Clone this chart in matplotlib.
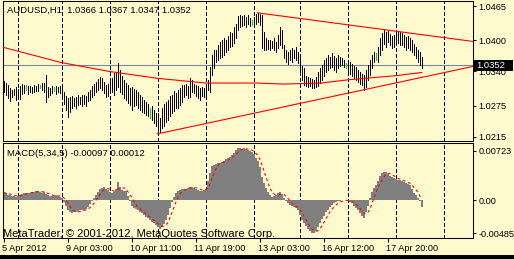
import numpy as np
import pandas as pd
import matplotlib
matplotlib.use("Agg")
import matplotlib.pyplot as plt
from matplotlib.patches import Rectangle
import matplotlib.transforms as mtransforms

plt.rcParams['font.family'] = ['Liberation Sans', 'DejaVu Sans']

# ---------------- data (AUDUSD, H1) ----------------
highs = [
    1.0322, 1.0318, 1.0314, 1.0309, 1.0305, 1.0307, 1.0311, 1.0307, 1.0312, 1.0316,
    1.0314, 1.0314, 1.0312, 1.0312, 1.0311, 1.0314, 1.0312, 1.0316, 1.0314, 1.0318,
    1.0318, 1.0333, 1.0311, 1.0309, 1.0312, 1.0311, 1.0312, 1.0311, 1.0312, 1.0309,
    1.0301, 1.0293, 1.0290, 1.0291, 1.0293, 1.0290, 1.0291, 1.0295, 1.0291, 1.0295,
    1.0295, 1.0293, 1.0301, 1.0305, 1.0312, 1.0316, 1.0320, 1.0326, 1.0330, 1.0328,
    1.0320, 1.0314, 1.0316, 1.0324, 1.0328, 1.0337, 1.0339, 1.0356, 1.0343, 1.0332,
    1.0324, 1.0318, 1.0314, 1.0309, 1.0311, 1.0307, 1.0305, 1.0301, 1.0295, 1.0291,
    1.0286, 1.0282, 1.0278, 1.0270, 1.0274, 1.0267, 1.0261, 1.0261, 1.0251, 1.0270,
    1.0278, 1.0282, 1.0286, 1.0293, 1.0295, 1.0303, 1.0299, 1.0305, 1.0309, 1.0314,
    1.0314, 1.0316, 1.0312, 1.0328, 1.0324, 1.0316, 1.0314, 1.0312, 1.0309, 1.0311,
    1.0309, 1.0312, 1.0324, 1.0349, 1.0372, 1.0381, 1.0381, 1.0391, 1.0396, 1.0400,
    1.0404, 1.0400, 1.0408, 1.0415, 1.0414, 1.0425, 1.0431, 1.0446, 1.0448, 1.0446,
    1.0448, 1.0444, 1.0448, 1.0442, 1.0438, 1.0444, 1.0450, 1.0452, 1.0450, 1.0448,
    1.0415, 1.0404, 1.0400, 1.0400, 1.0398, 1.0404, 1.0396, 1.0410, 1.0425, 1.0419,
    1.0391, 1.0381, 1.0377, 1.0381, 1.0385, 1.0381, 1.0387, 1.0377, 1.0366, 1.0351,
    1.0347, 1.0332, 1.0330, 1.0328, 1.0326, 1.0324, 1.0330, 1.0339, 1.0347, 1.0353,
    1.0362, 1.0366, 1.0372, 1.0368, 1.0375, 1.0370, 1.0366, 1.0372, 1.0368, 1.0366,
    1.0362, 1.0356, 1.0362, 1.0358, 1.0355, 1.0351, 1.0349, 1.0343, 1.0339, 1.0335,
    1.0333, 1.0343, 1.0353, 1.0362, 1.0372, 1.0377, 1.0375, 1.0387, 1.0404, 1.0414,
    1.0419, 1.0415, 1.0417, 1.0412, 1.0408, 1.0410, 1.0414, 1.0417, 1.0415, 1.0414,
    1.0410, 1.0406, 1.0408, 1.0404, 1.0400, 1.0393, 1.0387, 1.0381, 1.0377, 1.0367,
]
lows = [
    1.0301, 1.0295, 1.0290, 1.0284, 1.0291, 1.0295, 1.0286, 1.0293, 1.0288, 1.0297,
    1.0299, 1.0305, 1.0297, 1.0301, 1.0299, 1.0301, 1.0303, 1.0303, 1.0309, 1.0305,
    1.0301, 1.0282, 1.0291, 1.0295, 1.0299, 1.0303, 1.0297, 1.0301, 1.0299, 1.0293,
    1.0278, 1.0267, 1.0253, 1.0263, 1.0270, 1.0274, 1.0270, 1.0276, 1.0278, 1.0274,
    1.0278, 1.0274, 1.0284, 1.0286, 1.0291, 1.0295, 1.0301, 1.0305, 1.0309, 1.0305,
    1.0299, 1.0291, 1.0293, 1.0301, 1.0301, 1.0295, 1.0305, 1.0311, 1.0301, 1.0297,
    1.0290, 1.0286, 1.0280, 1.0276, 1.0267, 1.0274, 1.0276, 1.0270, 1.0267, 1.0263,
    1.0261, 1.0257, 1.0255, 1.0251, 1.0248, 1.0242, 1.0236, 1.0221, 1.0225, 1.0232,
    1.0236, 1.0244, 1.0248, 1.0255, 1.0261, 1.0265, 1.0270, 1.0270, 1.0276, 1.0282,
    1.0291, 1.0295, 1.0290, 1.0291, 1.0301, 1.0299, 1.0293, 1.0290, 1.0286, 1.0293,
    1.0291, 1.0295, 1.0305, 1.0301, 1.0333, 1.0347, 1.0358, 1.0362, 1.0366, 1.0368,
    1.0372, 1.0377, 1.0381, 1.0387, 1.0389, 1.0394, 1.0404, 1.0419, 1.0425, 1.0427,
    1.0429, 1.0425, 1.0431, 1.0427, 1.0429, 1.0425, 1.0431, 1.0435, 1.0429, 1.0385,
    1.0381, 1.0381, 1.0383, 1.0381, 1.0385, 1.0381, 1.0377, 1.0385, 1.0391, 1.0385,
    1.0366, 1.0358, 1.0355, 1.0362, 1.0358, 1.0366, 1.0362, 1.0356, 1.0339, 1.0324,
    1.0314, 1.0312, 1.0311, 1.0312, 1.0309, 1.0309, 1.0311, 1.0312, 1.0318, 1.0324,
    1.0332, 1.0339, 1.0343, 1.0347, 1.0349, 1.0343, 1.0339, 1.0347, 1.0351, 1.0353,
    1.0349, 1.0347, 1.0339, 1.0335, 1.0332, 1.0328, 1.0324, 1.0320, 1.0316, 1.0314,
    1.0305, 1.0311, 1.0324, 1.0333, 1.0347, 1.0358, 1.0362, 1.0358, 1.0372, 1.0381,
    1.0393, 1.0387, 1.0396, 1.0391, 1.0385, 1.0387, 1.0393, 1.0394, 1.0391, 1.0391,
    1.0387, 1.0381, 1.0385, 1.0381, 1.0377, 1.0372, 1.0366, 1.0358, 1.0353, 1.0347,
]
doji_bars = [11, 18, 25, 73, 124, 171, 186]

ma_bars = [0, 29, 53, 77, 101, 126, 140, 159, 172, 196, 209]
ma_values = [1.0386, 1.0357, 1.0340, 1.0327, 1.0318, 1.0318, 1.0316, 1.0318, 1.0324, 1.0332, 1.0338]

upper_trend_bars = [127, 196]
upper_trend_prices = [1.0452, 1.0417]
lower_trend_bars = [77, 180]
lower_trend_prices = [1.0221, 1.0305]

macd_main = [
    0.0011, 0.0010, 0.0008, 0.0007, 0.0006, 0.0006, 0.0005, 0.0006, 0.0007, 0.0009,
    0.0010, 0.0010, 0.0011, 0.0011, 0.0012, 0.0012, 0.0013, 0.0013, 0.0012, 0.0011,
    0.0012, 0.0009, 0.0007, 0.0006, 0.0006, 0.0006, 0.0007, 0.0006, 0.0005, 0.0003,
    -0.0003, -0.0008, -0.0014, -0.0018, -0.0019, -0.0018, -0.0017, -0.0016, -0.0015, -0.0015,
    -0.0014, -0.0013, -0.0010, -0.0006, -0.0002, 0.0003, 0.0008, 0.0012, 0.0016, 0.0018,
    0.0019, 0.0017, 0.0015, 0.0012, 0.0011, 0.0012, 0.0016, 0.0026, 0.0019, 0.0015,
    0.0013, 0.0013, 0.0006, -0.0002, -0.0008, -0.0011, -0.0013, -0.0014, -0.0017, -0.0019,
    -0.0022, -0.0025, -0.0027, -0.0030, -0.0032, -0.0034, -0.0036, -0.0039, -0.0042, -0.0040,
    -0.0035, -0.0030, -0.0022, -0.0012, -0.0003, 0.0004, 0.0010, 0.0013, 0.0015, 0.0016,
    0.0016, 0.0017, 0.0018, 0.0020, 0.0019, 0.0018, 0.0016, 0.0015, 0.0014, 0.0013,
    0.0015, 0.0017, 0.0028, 0.0040, 0.0050, 0.0052, 0.0053, 0.0055, 0.0055, 0.0056,
    0.0058, 0.0060, 0.0062, 0.0064, 0.0066, 0.0070, 0.0074, 0.0076, 0.0076, 0.0075,
    0.0076, 0.0075, 0.0074, 0.0073, 0.0071, 0.0068, 0.0062, 0.0057, 0.0048, 0.0034,
    0.0025, 0.0018, 0.0012, 0.0007, 0.0005, 0.0006, 0.0008, 0.0010, 0.0012, 0.0009,
    0.0003, -0.0002, -0.0005, -0.0007, -0.0009, -0.0010, -0.0012, -0.0015, -0.0022, -0.0030,
    -0.0034, -0.0038, -0.0042, -0.0046, -0.0049, -0.0048, -0.0045, -0.0040, -0.0034, -0.0028,
    -0.0023, -0.0018, -0.0014, -0.0010, -0.0007, -0.0005, -0.0003, -0.0002, -0.0001, 0.0000,
    0.0000, 0.0000, -0.0001, -0.0003, -0.0005, -0.0008, -0.0011, -0.0015, -0.0019, -0.0023,
    -0.0026, -0.0018, -0.0008, 0.0003, 0.0012, 0.0018, 0.0022, 0.0028, 0.0035, 0.0040,
    0.0042, 0.0041, 0.0038, 0.0035, 0.0034, 0.0033, 0.0031, 0.0029, 0.0029, 0.0028,
    0.0027, 0.0025, 0.0023, 0.0022, 0.0017, 0.0011, 0.0007, 0.0003, -0.0002, -0.00097,
]

day_separator_bars = [7, 29, 53, 77, 101, 125, 148, 172, 196, 220]
date_tick_bars = [0, 32, 64, 96, 128, 160, 192]
date_tick_labels = ["5 Apr 2012", "9 Apr 03:00", "10 Apr 11:00", "11 Apr 19:00",
                    "13 Apr 03:00", "16 Apr 12:00", "17 Apr 20:00"]
price_ticks = [1.0465, 1.0400, 1.0340, 1.0275, 1.0215]
macd_ticks = [0.00723, 0.0, -0.00485]
macd_tick_labels = ["0.00723", "0.00", "-0.00485"]
last_price = 1.0352
title_text = "AUDUSD,H1  1.0366 1.0367 1.0347 1.0352"
macd_text = "MACD(5,34,5) -0.00097 0.00012"
copyright_text = "MetaTrader, \u00a9 2001-2012, MetaQuotes Software Corp."

# ---------------- layout ----------------
W, H = 514, 259
BG = '#FFFACD'
fig = plt.figure(figsize=(W / 100, H / 100), dpi=100)
fig.patch.set_facecolor(BG)

def fx(px):
    return px / W

def fy(py):
    return 1 - py / H

ax1 = fig.add_axes([fx(2.5), fy(140.5), 470 / W, 140 / H])
ax2 = fig.add_axes([fx(2.5), fy(237.5), 470 / W, 95 / H])

xl = (-0.5, 234.5)
for ax in (ax1, ax2):
    ax.set_facecolor(BG)
    ax.set_xlim(*xl)
    for s in ax.spines.values():
        s.set_color('black')
        s.set_linewidth(0.75)
    ax.yaxis.tick_right()
    ax.tick_params(axis='y', direction='out', length=2.5, width=0.75, pad=2,
                   labelsize=6.6, colors='black')
    for b in day_separator_bars:
        ax.axvline(b, color='black', lw=0.5, ls=(0, (5, 4)), zorder=1, antialiased=False)

ax1.set_ylim(1.02083, 1.04755)
ax2.set_ylim(-0.00551, 0.00848)

idx = np.arange(len(highs))
bar_colors = ['#00E000' if i in doji_bars else 'black' for i in idx]
ax1.vlines(idx, lows, highs, colors=bar_colors, linewidth=0.45, zorder=3, antialiased=False)

ax1.axhline(last_price, color='#778899', lw=0.8, zorder=2)
ax1.plot(ma_bars, ma_values, color='red', lw=0.8, zorder=4)

def ray(ax, bars, prices):
    slope = (prices[1] - prices[0]) / (bars[1] - bars[0])
    x_end = xl[1]
    y_end = prices[0] + slope * (x_end - bars[0])
    ax.plot([bars[0], x_end], [prices[0], y_end], color='red', lw=0.8, zorder=4, clip_on=True)

ray(ax1, upper_trend_bars, upper_trend_prices)
ray(ax1, lower_trend_bars, lower_trend_prices)

ax1.set_yticks(price_ticks)
ax1.set_yticklabels([f"{p:.4f}" for p in price_ticks])
ax1.set_xticks([])

# MACD
macd = np.array(macd_main)
signal = pd.Series(macd).rolling(5, min_periods=1).mean().values
ax2.bar(idx, macd, width=1.0, color='#808080', linewidth=0, zorder=2, antialiased=False)
ax2.plot(idx, signal, color='red', lw=0.8, ls=(0, (2.5, 2.5)), zorder=4)
ax2.set_yticks(macd_ticks)
ax2.set_yticklabels(macd_tick_labels)

ax2.set_xticks(date_tick_bars)
ax2.set_xticklabels(date_tick_labels)
ax2.tick_params(axis='x', direction='out', length=3, width=0.75, pad=2,
                labelsize=6.6, colors='black')
offset = mtransforms.ScaledTranslation(-1.5 / 100, 0, fig.dpi_scale_trans)
for lab in ax2.get_xticklabels():
    lab.set_horizontalalignment('left')
    lab.set_transform(lab.get_transform() + offset)

# texts
fig.text(fx(7), fy(10.5), title_text, ha='left', va='center', fontsize=6.8, color='black')
fig.text(fx(7), fy(154), macd_text, ha='left', va='center', fontsize=6.8, color='black')
fig.text(fx(3), fy(237), copyright_text, ha='left', va='baseline', fontsize=8, color='black', zorder=6)

# last price box (covers part of the 1.0340 label, as in the terminal)
fig.patches.append(Rectangle((fx(473), fy(71)), 40 / W, 11 / H, transform=fig.transFigure,
                             facecolor='black', edgecolor='none', zorder=5))
fig.text(fx(476), fy(65.5), f"{last_price:.4f}", ha='left', va='center', fontsize=6.8,
         color='white', zorder=6)

# bottom window edge
fig.patches.append(Rectangle((0, 0), 1, 4 / H, transform=fig.transFigure,
                             facecolor='black', edgecolor='none', zorder=5))

fig.savefig('out.png', dpi=100, facecolor=BG)
